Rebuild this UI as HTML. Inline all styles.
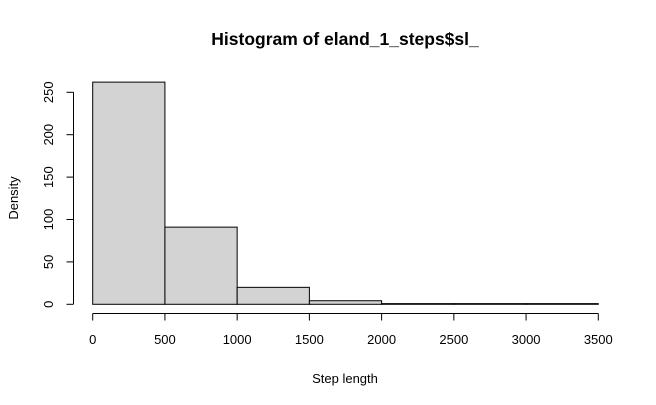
<!DOCTYPE html>
<html><head><meta charset="utf-8"><style>
body{margin:0;background:#fff}
svg{display:block;font-family:"Liberation Sans",Arial,sans-serif}
</style></head><body>
<svg width="656" height="405" viewBox="0 0 656 405">
<text x="345" y="45" text-anchor="middle" font-size="17.5" font-weight="bold">Histogram of eland_1_steps$sl_</text>
<g id="bars"></g>
<g id="xaxis"></g>
<g id="yaxis"></g>
<text x="345" y="383" text-anchor="middle" font-size="13">Step length</text>
<text transform="translate(18,198) rotate(-90)" text-anchor="middle" font-size="13">Density</text>
</svg>
<script>
const binEdges=[0,500,1000,1500,2000,2500,3000,3500];
const densities=[262,91,20,4.2,0.8,0.8,0.8];
const xTicks=[0,500,1000,1500,2000,2500,3000,3500];
const yTicks=[0,50,100,150,200,250];
const NS="http://www.w3.org/2000/svg";
const sx=v=>92.7+v*(598.3-92.7)/3500;
const sy=v=>304.3-v*(212/250);
function mk(t,a,p){const e=document.createElementNS(NS,t);for(const k in a)e.setAttribute(k,a[k]);p.appendChild(e);return e;}
const bars=document.getElementById('bars');
densities.forEach((d,i)=>{
 const r=mk('rect',{x:sx(binEdges[i]),y:sy(d),width:sx(binEdges[i+1])-sx(binEdges[i]),height:sy(0)-sy(d),fill:'#d3d3d3',stroke:'#000','stroke-width':1},bars);
 
 
});
const xa=document.getElementById('xaxis');
mk('line',{x1:sx(xTicks[0]),x2:sx(xTicks[xTicks.length-1]),y1:313.5,y2:313.5,stroke:'#000'},xa);
xTicks.forEach(t=>{
 mk('line',{x1:sx(t),x2:sx(t),y1:313.5,y2:320.5,stroke:'#000'},xa);
 const tx=mk('text',{x:sx(t),y:344,'text-anchor':'middle','font-size':13},xa);
 tx.textContent=t;
 
 
});
const ya=document.getElementById('yaxis');
mk('line',{x1:73.5,x2:73.5,y1:sy(yTicks[0]),y2:sy(yTicks[yTicks.length-1]),stroke:'#000'},ya);
yTicks.forEach(t=>{
 mk('line',{x1:66.5,x2:73.5,y1:sy(t),y2:sy(t),stroke:'#000'},ya);
 const tx=mk('text',{transform:`translate(53,${sy(t)}) rotate(-90)`,'text-anchor':'middle','font-size':13},ya);
 tx.textContent=t;
 
 
});
</script>
</body></html>
